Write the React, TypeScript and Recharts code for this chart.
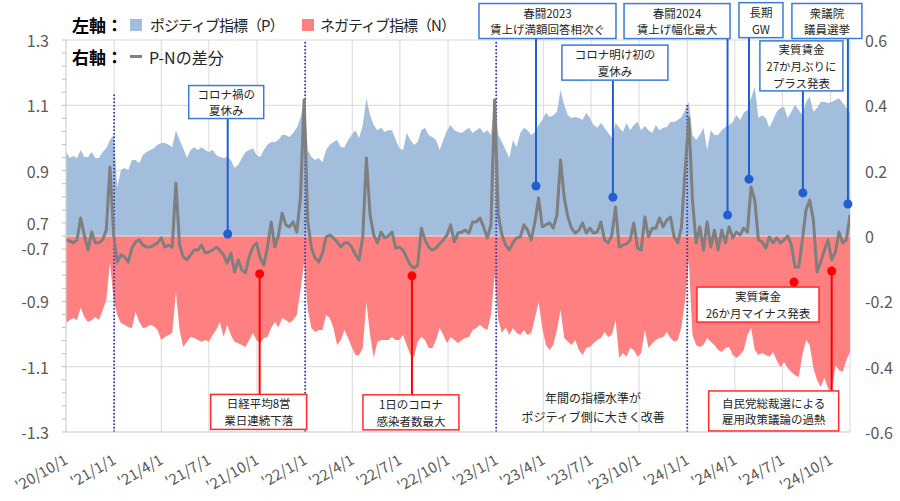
import React from 'react';
import { ComposedChart, Area, Line, XAxis, YAxis, CartesianGrid, ReferenceLine, ReferenceDot } from 'recharts';

const DAY_MS = 86400000;
const firstWeek = '2020-10-01';
const toTs = (s: string) => { const [y, m, d] = s.split('-').map(Number); return Date.UTC(y, m - 1, d); };

// Weekly values, left axis (P) 0.7–1.3
const positiveIndex = [
  0.957,0.939,0.945,0.939,0.963,0.942,0.942,0.957,0.939,0.939,
  0.957,0.969,0.994,1.009,0.850,0.902,0.908,0.902,0.933,0.933,
  0.923,0.948,0.957,0.963,0.969,0.979,0.985,0.985,0.979,0.972,
  1.024,0.994,0.969,0.939,0.963,0.972,0.963,0.972,0.963,0.957,
  0.963,0.948,0.942,0.939,0.942,0.933,0.908,0.917,0.939,0.957,
  0.963,0.969,0.948,0.942,0.963,0.979,0.988,0.988,0.994,1.009,
  1.009,1.003,1.015,1.031,1.061,1.116,0.963,0.942,0.933,0.939,
  0.926,0.963,0.979,0.988,0.994,0.972,0.972,0.994,1.009,1.024,
  1.000,1.040,1.122,1.070,1.040,1.024,1.031,1.018,1.024,1.024,
  0.994,0.969,0.963,1.015,0.994,0.979,0.988,1.024,1.031,1.009,
  1.003,0.994,0.963,0.994,1.024,1.040,1.024,1.018,1.015,1.024,
  1.031,1.015,1.024,1.031,1.015,1.024,1.009,1.110,1.009,0.988,
  0.963,0.939,0.994,0.972,1.015,1.031,1.024,1.009,1.018,1.040,
  1.055,1.077,1.064,1.070,1.080,1.147,1.101,1.070,1.061,1.064,
  1.061,1.055,1.077,1.061,1.040,1.031,1.046,1.031,1.015,1.000,
  1.046,1.031,1.018,1.046,1.024,1.040,1.049,1.024,1.037,1.024,
  1.015,1.040,1.024,1.031,1.034,1.049,1.049,1.055,1.064,1.086,
  1.110,1.009,0.994,1.009,1.031,0.963,1.024,1.009,1.009,1.024,
  1.034,1.040,1.049,1.070,1.055,1.077,1.086,1.122,1.156,1.061,
  1.070,1.061,1.031,1.055,1.080,1.092,1.095,1.061,1.080,1.101,
  1.086,1.070,1.110,1.126,1.080,1.092,1.110,1.110,1.107,1.110,
  1.116,1.122,1.107,1.092,1.077,
];

// Weekly values, left axis (N) -0.7 – -1.3 (magnitudes)
const negativeIndex = [
  0.966,0.957,0.951,0.957,0.920,0.948,0.963,0.957,0.948,0.957,
  0.927,0.896,0.780,0.896,0.942,0.966,0.972,0.979,0.982,0.933,
  0.963,0.982,0.979,0.972,0.976,0.988,1.018,1.009,1.003,0.997,
  0.871,0.988,1.040,1.024,1.009,1.012,1.018,1.024,1.018,1.024,
  1.003,0.988,0.963,1.009,0.972,1.003,1.024,1.028,1.034,1.040,
  1.018,0.997,1.018,1.028,1.012,1.009,0.982,0.963,0.979,0.951,
  0.957,0.966,0.957,0.942,0.865,0.780,0.927,0.982,0.994,0.988,
  0.988,0.942,0.951,0.982,1.034,1.018,0.988,1.012,1.040,1.064,
  1.064,1.043,0.902,1.003,1.073,1.024,1.018,1.018,1.018,1.009,
  1.018,1.018,1.003,1.034,1.064,1.070,1.024,1.009,1.018,1.043,
  1.043,1.018,0.982,1.003,1.028,1.009,1.018,1.028,1.018,1.012,
  1.009,0.988,0.982,0.972,0.982,0.988,0.942,0.819,0.957,0.997,
  0.979,1.003,0.982,0.997,1.003,0.988,1.003,0.997,0.951,0.902,
  0.982,1.034,1.049,1.034,0.988,0.927,1.012,1.024,1.034,1.018,
  1.049,1.064,1.043,1.040,1.028,1.018,1.012,0.994,1.009,1.003,
  0.957,1.073,1.058,1.070,1.043,1.049,1.070,1.058,0.988,1.043,
  1.028,1.018,1.012,1.009,0.994,1.012,1.024,1.018,0.979,0.896,
  0.774,1.003,1.034,1.040,1.034,1.012,1.024,1.034,1.049,1.055,
  1.043,1.040,1.064,1.073,1.064,1.049,1.003,0.982,1.049,1.064,
  1.058,1.064,1.070,1.055,1.080,1.101,1.086,1.104,1.116,1.126,
  1.132,1.064,1.018,1.034,1.104,1.141,1.162,1.135,1.165,1.181,
  1.095,1.110,1.116,1.080,1.055,
];

// Weekly P-N difference, right axis
const pnDiff = [
  -0.012,-0.015,-0.021,-0.012,0.055,0.003,-0.043,0.012,-0.021,-0.021,
  -0.012,0.018,0.211,0.003,-0.080,-0.058,-0.064,-0.080,-0.037,-0.018,
  -0.012,-0.028,-0.034,-0.034,-0.028,-0.021,-0.006,-0.034,-0.028,-0.034,
  0.162,-0.028,-0.064,-0.073,-0.058,-0.043,-0.043,-0.028,-0.052,-0.049,
  -0.043,-0.034,-0.043,-0.058,-0.083,-0.052,-0.110,-0.073,-0.104,-0.113,
  -0.064,-0.034,-0.021,-0.067,-0.089,-0.034,0.043,-0.034,0.003,0.070,
  0.034,0.028,0.043,0.012,0.119,0.416,0.043,-0.037,-0.067,-0.080,
  -0.052,-0.003,0.003,-0.006,-0.018,-0.034,-0.021,-0.021,-0.034,-0.058,
  -0.073,-0.003,0.239,0.064,0.003,-0.021,0.012,-0.006,0.000,0.012,
  -0.037,-0.034,-0.043,-0.067,-0.089,-0.098,-0.089,0.024,-0.012,-0.034,
  -0.043,-0.037,-0.024,-0.012,0.003,0.034,-0.018,0.009,0.012,0.018,
  0.009,0.043,0.043,0.055,0.028,-0.006,0.034,0.416,0.064,0.003,
  -0.028,-0.043,-0.021,-0.006,-0.003,0.034,0.018,-0.012,0.043,0.116,
  0.028,0.034,0.040,0.024,0.064,0.233,0.116,0.058,0.024,0.009,
  0.018,0.040,0.009,0.024,0.009,0.012,0.043,-0.012,-0.021,0.003,
  0.089,-0.034,-0.028,-0.024,-0.012,0.040,-0.037,-0.043,0.058,-0.003,
  0.024,0.024,0.055,0.028,0.049,0.058,-0.003,-0.021,0.028,0.202,
  0.361,0.110,-0.021,0.028,-0.043,0.043,-0.034,0.018,-0.043,0.018,
  -0.021,0.028,-0.006,0.012,0.003,0.024,0.012,0.150,0.110,-0.012,
  -0.018,-0.037,-0.003,-0.021,-0.006,-0.021,-0.012,0.000,-0.028,-0.095,
  -0.095,-0.012,0.080,0.110,0.049,-0.110,-0.080,-0.043,-0.012,-0.073,
  -0.049,0.012,-0.021,-0.012,0.064,
];

const xTickDates = ['2020-10-01','2021-01-01','2021-04-01','2021-07-01','2021-10-01','2022-01-01','2022-04-01','2022-07-01','2022-10-01','2023-01-01','2023-04-01','2023-07-01','2023-10-01','2024-01-01','2024-04-01','2024-07-01','2024-10-01'];
const xTickLabels = ["'20/10/1","'21/1/1","'21/4/1","'21/7/1","'21/10/1","'22/1/1","'22/4/1","'22/7/1","'22/10/1","'23/1/1","'23/4/1","'23/7/1","'23/10/1","'24/1/1","'24/4/1","'24/7/1","'24/10/1"];

const leftAxisBase = 0.7;
const rightTicks = [0.6, 0.4, 0.2, 0, -0.2, -0.4, -0.6];
const rightTickLabels = ['0.6', '0.4', '0.2', '0', '-0.2', '-0.4', '-0.6'];
const leftUpperLabels = ['1.3', '1.1', '0.9', '0.7'];
const leftLowerLabels = ['-0.7', '-0.9', '-1.1', '-1.3'];
const leftMinorTicks = Array.from({ length: 31 }, (_, k) => Math.round((-0.6 + k * 0.04) * 100) / 100);

const newYearDates = ['2021-01-01', '2022-01-01', '2023-01-01', '2024-01-01'];
const newYearLineTops = [0.438, 0.6, 0.6, 0.407];

// Annotations (anchor date/value on the right axis scale)
const annotationTexts = [
  ['コロナ禍の', '夏休み'],
  ['春闘2023', '賃上げ満額回答相次ぐ'],
  ['コロナ明け初の', '夏休み'],
  ['春闘2024', '賃上げ幅化最大'],
  ['長期', 'GW'],
  ['実質賃金', '27か月ぶりに', 'プラス発表'],
  ['衆議院', '議員選挙'],
  ['日経平均8営', '業日連続下落'],
  ['1日のコロナ', '感染者数最大'],
  ['実質賃金', '26か月マイナス発表'],
  ['自民党総裁選による', '雇用政策議論の過熱'],
];
const annotationDates = ['2021-08-06','2023-03-18','2023-08-12','2024-03-18','2024-04-28','2024-08-09','2024-11-03','2021-10-06','2022-07-24','2024-07-23','2024-10-03'];
const annotationValues = [0.006, 0.153, 0.119, 0.064, 0.174, 0.132, 0.098, -0.116, -0.122, -0.141, -0.107];
const annotationSides = ['P','P','P','P','P','P','P','N','N','N','N'];
// layout of boxes relative to anchor (px)
const annotationLayout = [
  { dx: -1.5, dy: -132, w: 75, h: 33 },
  { dx: 11.5, dy: -165, w: 137, h: 35 },
  { dx: 2, dy: -134.5, w: 106, h: 35 },
  { dx: -50.5, dy: -194, w: 106, h: 35 },
  { dx: 12, dy: -159, w: 44, h: 35 },
  { dx: -1.5, dy: -127, w: 83, h: 50 },
  { dx: -21, dy: -183, w: 70, h: 35 },
  { dx: -1, dy: 138, w: 96, h: 35 },
  { dx: -1, dy: 136.5, w: 96, h: 35 },
  { dx: -36, dy: 22.5, w: 122, h: 35 },
  { dx: -58, dy: 140, w: 130, h: 40 },
];
const noteText = ['年間の指標水準が', 'ポジティブ側に大きく改善'];
const noteDate = '2023-07-05';
const noteValue = -0.524;

const FONT = "'Noto Sans CJK JP', 'Noto Sans', sans-serif";
const BLUE_AREA = '#A3BDDD';
const RED_AREA = '#FF8080';
const GRAY_LINE = '#7F7F7F';
const AXIS_TEXT = '#595959';
const GRID = '#D9D9D9';

const chartData = positiveIndex.map((p, i) => ({
  t: toTs(firstWeek) + i * 7 * DAY_MS,
  p: +(p - leftAxisBase).toFixed(3),
  n: +(leftAxisBase - negativeIndex[i]).toFixed(3),
  d: pnDiff[i],
}));
const xTickTs = xTickDates.map(toTs);
const xDomain = [chartData[0].t, chartData[chartData.length - 1].t];

const XTick = (props: any) => {
  const { x, y, payload } = props;
  const idx = xTickTs.indexOf(payload.value);
  const label = idx >= 0 ? xTickLabels[idx] : '';
  const ax = x + 3;
  const ay = y + 31;
  return (
    <text x={ax} y={ay} textAnchor="end" fontSize={15} fill={AXIS_TEXT} fontFamily={FONT}
      transform={`rotate(-30 ${ax} ${ay})`}>{label}</text>
  );
};

const LeftTick = (props: any) => {
  const { x, y, payload } = props;
  const v = payload.value;
  const idx = rightTicks.findIndex((r) => Math.abs(r - v) < 1e-6);
  if (idx < 0) return <g />;
  const common = { x, textAnchor: 'end' as const, fontSize: 16, fill: AXIS_TEXT, fontFamily: FONT, dominantBaseline: 'central' as const };
  if (Math.abs(v) < 1e-6) {
    return (
      <g>
        <text {...common} y={y - 13}>{leftUpperLabels[3]}</text>
        <text {...common} y={y + 12}>{leftLowerLabels[0]}</text>
      </g>
    );
  }
  const label = v > 0 ? leftUpperLabels[idx] : leftLowerLabels[idx - 3];
  return <text {...common} y={y}>{label}</text>;
};

const RightTick = (props: any) => {
  const { x, y, payload } = props;
  const idx = rightTicks.findIndex((r) => Math.abs(r - payload.value) < 1e-6);
  return (
    <text x={x} y={y} textAnchor="start" dominantBaseline="central" fontSize={16} fill={AXIS_TEXT} fontFamily={FONT}>
      {idx >= 0 ? rightTickLabels[idx] : ''}
    </text>
  );
};

const ANN_FONT = 11.5;
const ANN_LH = 16.8;

const makeAnnotationShape = (k: number) => (props: any) => {
  const { cx, cy } = props;
  if (cx == null || cy == null) return <g />;
  const lay = annotationLayout[k];
  const pos = annotationSides[k] === 'P';
  const lineColor = pos ? '#1F5FD1' : '#FF0000';
  const borderColor = pos ? '#3A7BD8' : '#FF2B2B';
  const bx = cx + lay.dx;
  const by = cy + lay.dy;
  const edge = lay.dy < 0 ? by + lay.h / 2 : by - lay.h / 2;
  const lines = annotationTexts[k];
  const n = lines.length;
  return (
    <g>
      <line x1={cx} y1={cy} x2={cx} y2={edge} stroke={lineColor} strokeWidth={2} />
      <rect x={bx - lay.w / 2} y={by - lay.h / 2} width={lay.w} height={lay.h} fill="#fff" stroke={borderColor} strokeWidth={1.5} />
      {lines.map((s, j) => (
        <text key={j} x={bx} y={by + (j - (n - 1) / 2) * ANN_LH} textAnchor="middle" dominantBaseline="central"
          fontSize={ANN_FONT} fill="#262626" fontFamily={FONT}>{s}</text>
      ))}
      <circle cx={cx} cy={cy} r={4.5} fill={lineColor} />
    </g>
  );
};

const NoteShape = (props: any) => {
  const { cx, cy } = props;
  if (cx == null || cy == null) return <g />;
  return (
    <g>
      {noteText.map((s, j) => (
        <text key={j} x={cx} y={cy + (j - 0.5) * 19} textAnchor="middle" dominantBaseline="central" fontSize={12}
          fill="#262626" fontFamily={FONT}>{s}</text>
      ))}
    </g>
  );
};

const legendText: React.CSSProperties = {
  position: 'absolute', fontFamily: FONT, fontSize: 16, lineHeight: '20px', color: '#262626',
  whiteSpace: 'nowrap',
};

export default function App() {
  return (
    <div style={{ position: 'relative', width: 900, height: 501, background: '#fff', overflow: 'hidden' }}>
      <style>{'body{margin:0;}'}</style>
      <ComposedChart width={900} height={501} data={chartData} margin={{ top: 40, right: 0, bottom: 0, left: 0 }}
        style={{ fontFamily: FONT }}>
        <CartesianGrid yAxisId="r" stroke={GRID} strokeWidth={1} />
        <XAxis dataKey="t" type="number" domain={xDomain} ticks={xTickTs} interval={0} height={69}
          tickLine={false} tickSize={0} tickMargin={0} axisLine={{ stroke: GRID }} tick={<XTick />} allowDataOverflow />
        <YAxis yAxisId="l" orientation="left" domain={[-0.6, 0.6]} ticks={leftMinorTicks} interval={0} width={66}
          tickSize={4} tickMargin={13} tickLine={{ stroke: '#BFBFBF' }} axisLine={{ stroke: GRID }} tick={<LeftTick />} allowDataOverflow />
        <YAxis yAxisId="r" orientation="right" domain={[-0.6, 0.6]} ticks={rightTicks} interval={0} width={50}
          tickSize={6} tickMargin={9} tickLine={false} axisLine={false} tick={<RightTick />} allowDataOverflow />
        <Area yAxisId="r" dataKey="p" type="linear" baseValue={0} fill={BLUE_AREA} fillOpacity={1} stroke="none" isAnimationActive={false} />
        <Area yAxisId="r" dataKey="n" type="linear" baseValue={0} fill={RED_AREA} fillOpacity={1} stroke="none" isAnimationActive={false} />
        <ReferenceLine yAxisId="r" y={0} stroke="#E3E3E3" strokeWidth={1.2} />
        {newYearDates.map((d, k) => (
          <ReferenceLine key={d} yAxisId="r" ifOverflow="visible"
            segment={[{ x: toTs(d), y: -0.6 }, { x: toTs(d), y: newYearLineTops[k] }]}
            stroke="#2B36A8" strokeWidth={1.8} strokeDasharray="1.5 2" />
        ))}
        <Line yAxisId="r" dataKey="d" type="linear" stroke={GRAY_LINE} strokeWidth={3} dot={false}
          strokeLinejoin="round" isAnimationActive={false} />
        <ReferenceDot yAxisId="r" x={toTs(noteDate)} y={noteValue} r={1} ifOverflow="visible" shape={NoteShape} />
        {annotationDates.map((d, k) => (
          <ReferenceDot key={k} yAxisId="r" x={toTs(d)} y={annotationValues[k]} r={4.5} ifOverflow="visible"
            shape={makeAnnotationShape(k)} />
        ))}
      </ComposedChart>
      {/* Legend */}
      <span style={{ ...legendText, left: 72, top: 15, fontWeight: 700, color: '#000', fontSize: 17 }}>左軸：</span>
      <span style={{ position: 'absolute', left: 130, top: 19, width: 12, height: 12, background: BLUE_AREA }} />
      <span style={{ ...legendText, left: 150, top: 15, fontSize: 15, letterSpacing: -1 }}>ポジティブ指標（P）</span>
      <span style={{ position: 'absolute', left: 302, top: 19, width: 12, height: 12, background: RED_AREA }} />
      <span style={{ ...legendText, left: 320, top: 15, fontSize: 15, letterSpacing: -1 }}>ネガティブ指標（N）</span>
      <span style={{ ...legendText, left: 72, top: 47, fontWeight: 700, color: '#000', fontSize: 17 }}>右軸：</span>
      <span style={{ position: 'absolute', left: 130, top: 55, width: 12, height: 3, background: GRAY_LINE }} />
      <span style={{ ...legendText, left: 149, top: 47 }}>P-Nの差分</span>
    </div>
  );
}
